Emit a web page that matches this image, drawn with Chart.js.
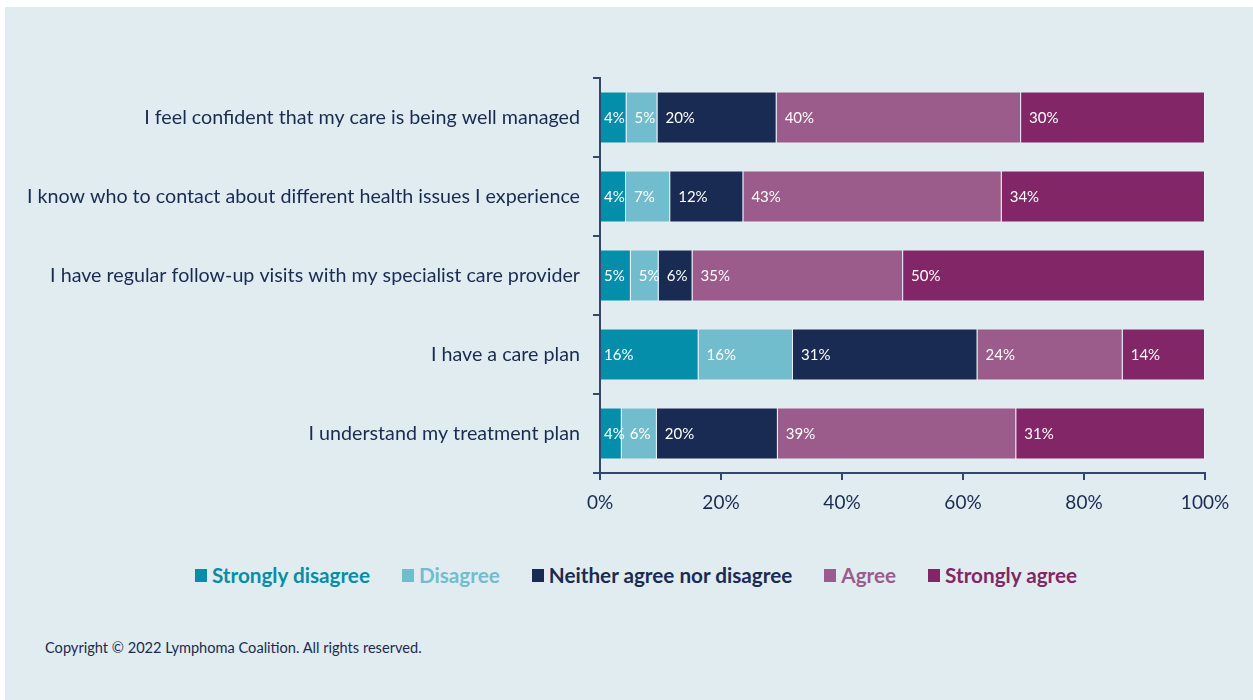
<!DOCTYPE html>
<html>
<head>
<meta charset="utf-8">
<script src="https://cdn.jsdelivr.net/npm/chart.js@4/dist/chart.umd.min.js"></script>
<style>
  html, body { margin: 0; padding: 0; background: #ffffff; width: 1253px; height: 700px; overflow: hidden; }
  #panel { position: absolute; left: 5px; top: 7px; width: 1248px; height: 693px; background: #e1ecf1; }
  #wrap { position: absolute; left: 0; top: 0; width: 1248px; height: 527px; }
  #legend { position: absolute; left: 0; top: 554px; width: 1262px; height: 28px;
            display: flex; justify-content: center; align-items: center;
            font: bold 20.7px Lato, sans-serif; white-space: nowrap; }
  .item { display: flex; align-items: center; margin: 0 16px; }
  .box { width: 12px; height: 13px; margin-right: 5px; }
  #copy { position: absolute; left: 40px; top: 632px; font: 14.6px Lato, sans-serif; color: #1a2b52; }
</style>
</head>
<body>
<div id="panel">
  <div id="wrap"><canvas id="chart" width="1248" height="527"></canvas></div>
  <div id="legend"></div>
  <div id="copy">Copyright © 2022 Lymphoma Coalition. All rights reserved.</div>
</div>
<script>
// Survey statements (one bar each)
const categories = [
  'I feel confident that my care is being well managed',
  'I know who to contact about different health issues I experience',
  'I have regular follow-up visits with my specialist care provider',
  'I have a care plan',
  'I understand my treatment plan'
];

// Response scale
const seriesNames = ['Strongly disagree', 'Disagree', 'Neither agree nor disagree', 'Agree', 'Strongly agree'];
const seriesColors = ['#048ea9', '#72bdcd', '#1a2b53', '#9b5b8b', '#832668'];

// Share of respondents (%) per statement
const stronglyDisagree = [4.4, 4.3, 5.1, 16.3, 3.6];
const disagree         = [5.1, 7.3, 4.6, 15.6, 5.8];
const neither          = [19.7, 12.1, 5.6, 30.5, 20.0];
const agree            = [40.4, 42.7, 34.8, 24.0, 39.4];
const stronglyAgree    = [30.4, 33.6, 49.9, 13.6, 31.2];

// X axis tick values
const xTicks = [0, 20, 40, 60, 80, 100];

const seriesValues = [stronglyDisagree, disagree, neither, agree, stronglyAgree];
const axisColor = '#34466a';
const textColor = '#1a2b52';

// White percentage labels at the start of each segment
const segmentLabels = {
  id: 'segmentLabels',
  afterDatasetsDraw(chart) {
    const ctx = chart.ctx;
    ctx.save();
    ctx.font = '15px Lato, sans-serif';
    ctx.fillStyle = '#ffffff';
    ctx.textAlign = 'left';
    ctx.textBaseline = 'middle';
    chart.data.datasets.forEach((ds, di) => {
      const meta = chart.getDatasetMeta(di);
      meta.data.forEach((bar, i) => {
        const left = Math.min(bar.base, bar.x);
        ctx.fillText(Math.round(ds.data[i]) + '%', left + (di === 0 ? 3 : 8), bar.y + 1);
      });
    });
    ctx.restore();
  }
};

function build() {
  const chart = new Chart(document.getElementById('chart'), {
    type: 'bar',
    data: {
      labels: categories,
      datasets: seriesNames.map((name, k) => ({
        label: name,
        data: seriesValues[k],
        backgroundColor: seriesColors[k],
        borderColor: 'rgba(255,255,255,0.25)',
        borderWidth: 1,
        categoryPercentage: 1,
        barPercentage: 0.66
      }))
    },
    options: {
      indexAxis: 'y',
      responsive: false,
      devicePixelRatio: 1,
      animation: false,
      layout: { padding: { left: 0, top: 71, right: 48, bottom: 21 } },
      plugins: { legend: { display: false }, tooltip: { enabled: false } },
      scales: {
        x: {
          stacked: true,
          min: 0,
          max: 100,
          afterBuildTicks: s => { s.ticks = xTicks.map(v => ({ value: v })); },
          afterFit: s => { s.height = 40; },
          ticks: {
            callback: v => v + '%',
            font: { family: 'Lato', size: 19 },
            color: textColor,
            padding: 11,
            maxRotation: 0
          },
          grid: { drawOnChartArea: false, drawTicks: true, tickLength: 7, color: axisColor, lineWidth: 2 },
          border: { display: true, color: axisColor, width: 2 }
        },
        y: {
          stacked: true,
          afterFit: s => { s.width = 595; },
          ticks: {
            font: { family: 'Lato', size: 19.7 },
            color: textColor,
            padding: 13
          },
          grid: { drawOnChartArea: false, drawTicks: true, tickLength: 7, color: axisColor, lineWidth: 2, offset: true },
          border: { display: true, color: axisColor, width: 2 }
        }
      }
    },
    plugins: [segmentLabels]
  });

  // Legend built from the chart's datasets
  const legend = document.getElementById('legend');
  chart.data.datasets.forEach(ds => {
    const item = document.createElement('div');
    item.className = 'item';
    const box = document.createElement('span');
    box.className = 'box';
    box.style.background = ds.backgroundColor;
    const txt = document.createElement('span');
    txt.textContent = ds.label;
    txt.style.color = ds.backgroundColor;
    item.appendChild(box);
    item.appendChild(txt);
    legend.appendChild(item);
  });
}

Promise.all([
  document.fonts.load('15px Lato'),
  document.fonts.load('20px Lato'),
  document.fonts.load('bold 20px Lato')
]).then(build, build);
</script>
</body>
</html>
